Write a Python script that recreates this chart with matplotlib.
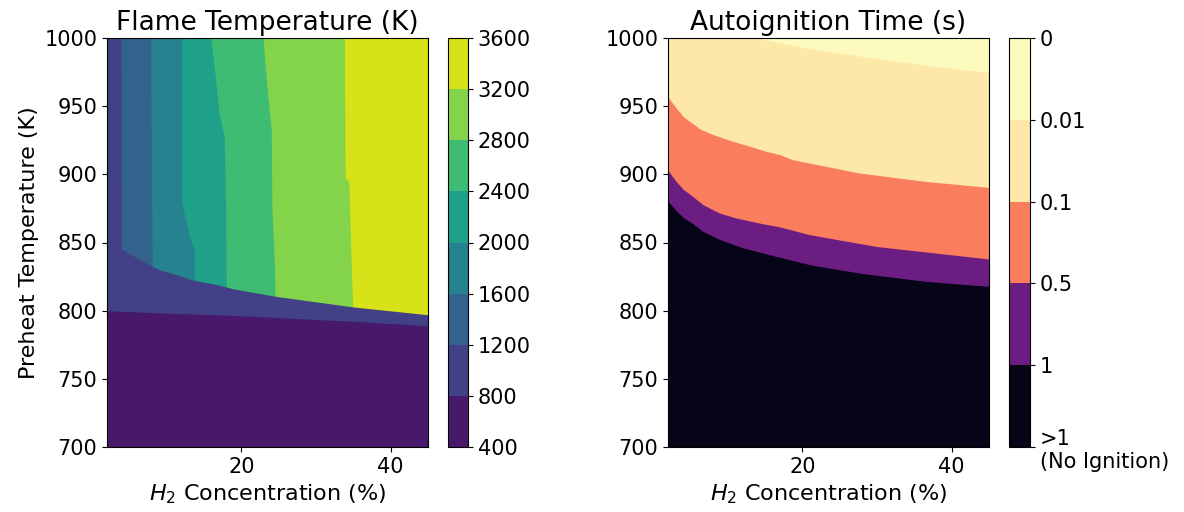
import numpy as np
import matplotlib
matplotlib.use("Agg")
import matplotlib.pyplot as plt
from matplotlib.colors import ListedColormap, BoundaryNorm
import matplotlib as mpl

# ---------------- data ----------------
h2_range = [2, 45]
tp_range = [700, 1000]

# Flame temperature levels (K)
flame_levels = [400, 800, 1200, 1600, 2000, 2400, 2800, 3200, 3600]

# ignition limit (top of the 400-800 K band): preheat T vs H2
ign_h2 = [2, 9.25, 19.9, 27.0, 35.9, 45]
ign_T = [800.0, 798.3, 796.3, 794.3, 791.9, 789.0]

# top of the 800-1200 K band (onset of flame)
flm_h2 = [3.85, 5.03, 6.8, 9.03, 11.03, 13.25, 16.8, 19.0, 20.4, 24.6, 35.0, 45]
flm_T = [845.5, 841.8, 836.1, 830.0, 826.9, 822.7, 819.0, 815.9, 814.6, 810.5, 802.7, 797.0]

# near-vertical iso-temperature boundaries (H2 at given preheat T);
# each runs down below the flame-onset line, where it is hidden
b1200_T = [1000, 845, 790]
b1200_h2 = [3.87, 3.92, 3.92]
b1600_T = [1000, 832, 790]
b1600_h2 = [7.83, 8.05, 8.05]
b2000_T = [1000, 880, 870, 855, 845, 790]
b2000_h2 = [12.0, 12.0, 12.4, 13.0, 13.7, 13.7]
b2400_T = [1000, 977, 945, 928, 870, 790]
b2400_h2 = [15.9, 16.4, 17.0, 17.7, 17.9, 18.0]
b2800_T = [1000, 985, 960, 933, 873, 837, 790]
b2800_h2 = [22.9, 23.1, 23.5, 24.0, 24.1, 24.4, 24.6]
b3200_T = [1000, 897, 895, 837, 790]
b3200_h2 = [33.8, 33.9, 34.4, 34.7, 35.0]

# Autoignition time levels (s) and boundaries
ign_time_levels = [0, 0.01, 0.1, 0.5, 1, 1.1]
ign_time_labels = ['>1\n(No Ignition)', '1', '0.5', '0.1', '0.01', '0']

t1_h2 = [2, 3.2, 4.1, 5.2, 6.7, 9.0, 12.1, 16.5, 21.0, 27.6, 36.5, 45]
t1_T = [880.2, 872.8, 868.0, 864.3, 858.1, 852.0, 846.0, 839.8, 833.7, 827.6, 821.5, 817.8]

t05_h2 = [2, 3.2, 4.1, 5.2, 6.7, 8.9, 11.1, 14.2, 17.0, 21.0, 29.9, 45]
t05_T = [902.7, 894.1, 888.7, 884.3, 877.7, 871.6, 868.0, 864.3, 861.4, 855.7, 847.1, 837.9]

t01_h2 = [2, 3.2, 4.1, 5.2, 6.3, 8.1, 10.3, 13.0, 15.2, 17.0, 18.7, 27.6, 36.5, 45]
t01_T = [956.6, 947.9, 942.1, 937.7, 933.2, 929.0, 924.9, 920.5, 916.8, 914.4, 910.7, 901.0, 894.8, 890.4]

t001_h2 = [13.9, 20.5, 29.4, 38.4, 45]
t001_T = [1000, 992.7, 985.3, 978.7, 974.8]

# ---------------- figure ----------------
W, H = 1184, 512
fig = plt.figure(figsize=(W / 100, H / 100), dpi=100)
ax1 = fig.add_axes([107 / W, 65 / H, 321 / W, 409 / H])
cax1 = fig.add_axes([448 / W, 65 / H, 20 / W, 409 / H])
ax2 = fig.add_axes([668 / W, 65 / H, 321 / W, 409 / H])
cax2 = fig.add_axes([1009 / W, 65 / H, 21 / W, 409 / H])

FS = 15
LFS = 16
TFS = 19

# colours: contourf-style midpoints
nf = len(flame_levels) - 1
vir = plt.get_cmap('viridis')
fcol = [vir((i + 0.5) / nf) for i in range(nf)]

mag_r = plt.get_cmap('magma_r')
vmax = ign_time_levels[-1]
mids = [(a + b) / 2 for a, b in zip(ign_time_levels[:-1], ign_time_levels[1:])]
tcol_by_level = [mag_r(m / vmax) for m in mids]  # low time -> light
tcol = tcol_by_level[::-1]  # black (no ignition) first

kw = dict(linewidth=0, antialiased=True)

# ---- left: flame temperature ----
ax1.fill_between(h2_range, tp_range[0], tp_range[1], color=fcol[1], **kw)
bounds = [(b1200_h2, b1200_T), (b1600_h2, b1600_T), (b2000_h2, b2000_T),
          (b2400_h2, b2400_T), (b2800_h2, b2800_T), (b3200_h2, b3200_T)]
for k, (bh, bt) in enumerate(bounds):
    ax1.fill_betweenx(bt, bh, h2_range[1], color=fcol[k + 2], **kw)
ax1.fill_between(flm_h2, tp_range[0], flm_T, color=fcol[1], **kw)
ax1.fill_between(ign_h2, tp_range[0], ign_T, color=fcol[0], **kw)

ax1.set_xlim(*h2_range)
ax1.set_ylim(*tp_range)
ax1.set_xticks([20, 40])
ax1.set_yticks(np.arange(700, 1001, 50))
ax1.tick_params(labelsize=FS)
ax1.set_title('Flame Temperature (K)', fontsize=TFS)
ax1.set_xlabel('$H_2$ Concentration (%)', fontsize=LFS)
ax1.set_ylabel('Preheat Temperature (K)', fontsize=LFS)

cb1 = mpl.colorbar.ColorbarBase(cax1, cmap=ListedColormap(fcol),
                                norm=BoundaryNorm(flame_levels, nf))
cb1.set_ticks(flame_levels)
cb1.ax.tick_params(labelsize=FS)

# ---- right: autoignition time ----
ax2.fill_between(h2_range, tp_range[0], tp_range[1], color=tcol[0], **kw)
for k, (bh, bt) in enumerate([(t1_h2, t1_T), (t05_h2, t05_T),
                               (t01_h2, t01_T), (t001_h2, t001_T)]):
    ax2.fill_between(bh, bt, tp_range[1], color=tcol[k + 1], **kw)

ax2.set_xlim(*h2_range)
ax2.set_ylim(*tp_range)
ax2.set_xticks([20, 40])
ax2.set_yticks(np.arange(700, 1001, 50))
ax2.tick_params(labelsize=FS)
ax2.set_title('Autoignition Time (s)', fontsize=TFS)
ax2.set_xlabel('$H_2$ Concentration (%)', fontsize=LFS)

nt = len(tcol)
cb2 = mpl.colorbar.ColorbarBase(cax2, cmap=ListedColormap(tcol),
                                norm=BoundaryNorm(np.arange(nt + 1), nt))
cb2.set_ticks(np.arange(nt + 1))
cb2.set_ticklabels(ign_time_labels)
cb2.ax.tick_params(labelsize=FS)

fig.savefig('out.png', dpi=100)
